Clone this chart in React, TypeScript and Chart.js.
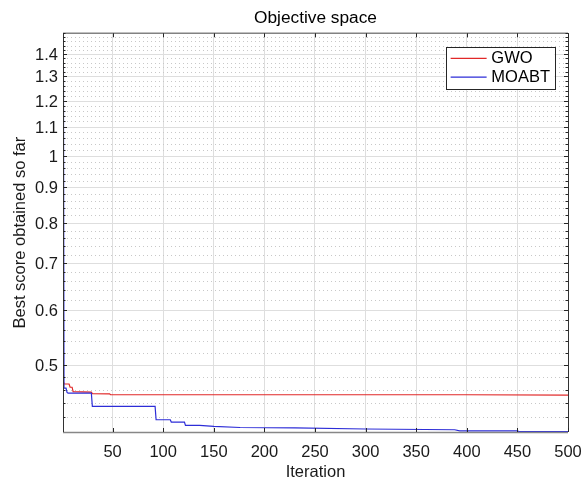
import React, { useEffect, useRef } from 'react';
import { Chart, registerables } from 'chart.js';

Chart.register(...registerables);

const FONT = '"Liberation Sans", Arial, Helvetica, sans-serif';

// Axis ticks
const xTickValues = [50, 100, 150, 200, 250, 300, 350, 400, 450, 500];
const yTickValues = [0.5, 0.6, 0.7, 0.8, 0.9, 1.0, 1.1, 1.2, 1.3, 1.4];
const yTickLabels = ['0.5', '0.6', '0.7', '0.8', '0.9', '1', '1.1', '1.2', '1.3', '1.4'];
const yMinorStep = 0.02;

// Series (breakpoints of the convergence curves)
const seriesLabels = ['GWO', 'MOABT'];
const seriesColors = ['rgb(225,40,40)', 'rgb(45,45,215)'];

const gwoIter = [1, 2, 7, 8, 10, 11, 29, 30, 47, 48, 400, 500];
const gwoScore = [0.475, 0.469, 0.469, 0.464, 0.464, 0.4573, 0.4565, 0.4542, 0.454, 0.4527, 0.4526, 0.452];

const moabtIter = [1, 2, 4, 5, 6, 29, 30, 92, 93, 107, 108, 121, 122, 136, 150, 176, 230, 300, 388, 393, 450, 452, 500];
const moabtScore = [3.0, 0.4627, 0.4627, 0.4561, 0.4551, 0.4551, 0.4354, 0.4354, 0.4166, 0.4166, 0.4134, 0.4134, 0.4088, 0.4088, 0.4075, 0.406, 0.4055, 0.404, 0.403, 0.4014, 0.4014, 0.4004, 0.4004];

const isMajorY = (v: number) => yTickValues.some((m) => Math.abs(m - v) < 1e-6);

const matlabPlugin = {
  id: 'matlabFrame',
  beforeDatasetsDraw(chart: any) {
    const { ctx, chartArea: a, scales } = chart;
    const y = scales.y;
    ctx.save();
    ctx.lineWidth = 1;
    for (const t of y.ticks) {
      const py = Math.round(y.getPixelForValue(t.value)) + 0.5;
      const major = isMajorY(t.value);
      ctx.strokeStyle = major ? 'rgb(222,222,222)' : 'rgb(200,200,200)';
      ctx.setLineDash(major ? [] : [1, 3]);
      ctx.beginPath();
      ctx.moveTo(a.left, py);
      ctx.lineTo(a.right, py);
      ctx.stroke();
    }
    ctx.restore();
  },
  afterDatasetsDraw(chart: any) {
    const { ctx, chartArea: a, scales } = chart;
    const x = scales.x;
    const y = scales.y;
    ctx.save();
    ctx.setLineDash([]);
    // frame
    ctx.strokeStyle = 'rgb(130,130,130)';
    ctx.lineWidth = 1.5;
    ctx.beginPath();
    ctx.moveTo(a.left, a.top);
    ctx.lineTo(a.right, a.top);
    ctx.stroke();
    ctx.strokeStyle = 'rgb(135,135,135)';
    ctx.beginPath();
    ctx.moveTo(a.left, a.bottom + 0.5);
    ctx.lineTo(a.right, a.bottom + 0.5);
    ctx.stroke();
    ctx.lineWidth = 1;
    ctx.strokeStyle = 'rgb(50,50,50)';
    ctx.beginPath();
    ctx.moveTo(Math.round(a.right) + 0.5, a.top);
    ctx.lineTo(Math.round(a.right) + 0.5, a.bottom);
    ctx.moveTo(Math.round(a.left) + 0.5, a.top);
    ctx.lineTo(Math.round(a.left) + 0.5, a.bottom);
    ctx.stroke();
    // ticks
    ctx.strokeStyle = 'rgb(38,38,38)';
    ctx.beginPath();
    for (const t of x.ticks) {
      const px = Math.round(x.getPixelForValue(t.value)) + 0.5;
      ctx.moveTo(px, a.bottom);
      ctx.lineTo(px, a.bottom - 4);
      ctx.moveTo(px, a.top);
      ctx.lineTo(px, a.top + 4);
    }
    for (const t of y.ticks) {
      const py = Math.round(y.getPixelForValue(t.value)) + 0.5;
      const len = isMajorY(t.value) ? 4 : 2.5;
      ctx.moveTo(a.left, py);
      ctx.lineTo(a.left + len, py);
      ctx.moveTo(a.right, py);
      ctx.lineTo(a.right - len, py);
    }
    ctx.stroke();
    // legend
    ctx.font = `16.5px ${FONT}`;
    const tw = Math.max(...seriesLabels.map((l) => ctx.measureText(l).width));
    const padL = 5, lineLen = 36, gap = 4.7, padR = 4.5;
    const boxW = padL + lineLen + gap + tw + padR;
    const boxRight = a.right - 13.5;
    const boxTop = a.top + 13.5;
    const boxLeft = boxRight - boxW;
    const boxH = 42.3;
    ctx.fillStyle = '#ffffff';
    ctx.fillRect(boxLeft, boxTop, boxW, boxH);
    ctx.strokeStyle = 'rgb(38,38,38)';
    ctx.lineWidth = 1;
    ctx.strokeRect(Math.round(boxLeft) + 0.5, Math.round(boxTop) + 0.5, Math.round(boxW), Math.round(boxH));
    seriesLabels.forEach((lab, i) => {
      const cy = boxTop + 11.6 + i * 18.7;
      ctx.strokeStyle = seriesColors[i];
      ctx.lineWidth = 1.2;
      ctx.beginPath();
      ctx.moveTo(boxLeft + padL, cy);
      ctx.lineTo(boxLeft + padL + lineLen, cy);
      ctx.stroke();
      ctx.fillStyle = '#000000';
      ctx.textBaseline = 'middle';
      ctx.textAlign = 'left';
      ctx.fillText(lab, boxLeft + padL + lineLen + gap, cy + 0.5);
    });
    ctx.restore();
  },
};

export default function App() {
  const ref = useRef<HTMLCanvasElement>(null);
  useEffect(() => {
    const canvas = ref.current;
    if (!canvas) return;
    Chart.defaults.font.family = FONT;
    const chart = new Chart(canvas, {
      type: 'line',
      data: {
        datasets: [
          {
            label: seriesLabels[0],
            data: gwoIter.map((it, i) => ({ x: it, y: gwoScore[i] })),
            borderColor: seriesColors[0],
            borderWidth: 1.2,
            pointRadius: 0,
            tension: 0,
            order: 1,
          },
          {
            label: seriesLabels[1],
            data: moabtIter.map((it, i) => ({ x: it, y: moabtScore[i] })),
            borderColor: seriesColors[1],
            borderWidth: 1.2,
            pointRadius: 0,
            tension: 0,
            order: 0,
          },
        ],
      },
      options: {
        animation: false,
        responsive: false,
        devicePixelRatio: 1,
        events: [],
        layout: { padding: { left: 0, right: 16, top: 0, bottom: 0 } },
        plugins: {
          legend: { display: false },
          tooltip: { enabled: false },
          title: {
            display: true,
            text: 'Objective space',
            fullSize: false,
            color: '#000',
            font: { size: 17.3, weight: 'normal', family: FONT, lineHeight: 1.2 },
            padding: { top: 7.5, bottom: 5.0 },
          },
        },
        scales: {
          x: {
            type: 'linear',
            min: 1,
            max: 500,
            afterBuildTicks: (scale: any) => {
              scale.ticks = xTickValues.map((v) => ({ value: v }));
            },
            afterFit: (scale: any) => {
              scale.height = 47;
              scale.paddingLeft = 0;
              scale.paddingRight = 0;
            },
            grid: { color: 'rgb(222,222,222)', lineWidth: 1, drawTicks: false },
            border: { display: false },
            ticks: {
              autoSkip: false,
              maxRotation: 0,
              padding: 10.5,
              color: '#1a1a1a',
              font: { size: 16.5, family: FONT },
            },
            title: {
              display: true,
              text: 'Iteration',
              color: '#1a1a1a',
              font: { size: 16.5, family: FONT, lineHeight: 1 },
              padding: { top: 0, bottom: -1.5 },
            },
          },
          y: {
            type: 'logarithmic',
            min: 0.4,
            max: 1.5,
            afterBuildTicks: (scale: any) => {
              const ticks: any[] = [];
              for (let k = 21; k <= 75; k++) ticks.push({ value: +(k * yMinorStep).toFixed(2) });
              scale.ticks = ticks;
            },
            afterFit: (scale: any) => {
              scale.width = 63;
              scale.paddingTop = 0;
              scale.paddingBottom = 0;
            },
            grid: { display: false, drawTicks: false },
            border: { display: false },
            ticks: {
              autoSkip: false,
              padding: 5,
              labelOffset: 1.5,
              color: '#1a1a1a',
              font: { size: 16.5, family: FONT },
              callback: (value: any) => {
                const i = yTickValues.findIndex((m) => Math.abs(m - Number(value)) < 1e-6);
                return i >= 0 ? yTickLabels[i] : '';
              },
            },
            title: {
              display: true,
              text: 'Best score obtained so far',
              color: '#1a1a1a',
              font: { size: 16.5, family: FONT, lineHeight: 1 },
              padding: { top: 12, bottom: 0 },
            },
          },
        },
      },
      plugins: [matlabPlugin],
    } as any);
    return () => chart.destroy();
  }, []);
  return (
    <div style={{ position: 'absolute', left: 0, top: 0, width: 584, height: 479, background: '#fff' }}>
      <canvas ref={ref} width={584} height={479} style={{ display: 'block', width: 584, height: 479 }} />
    </div>
  );
}
